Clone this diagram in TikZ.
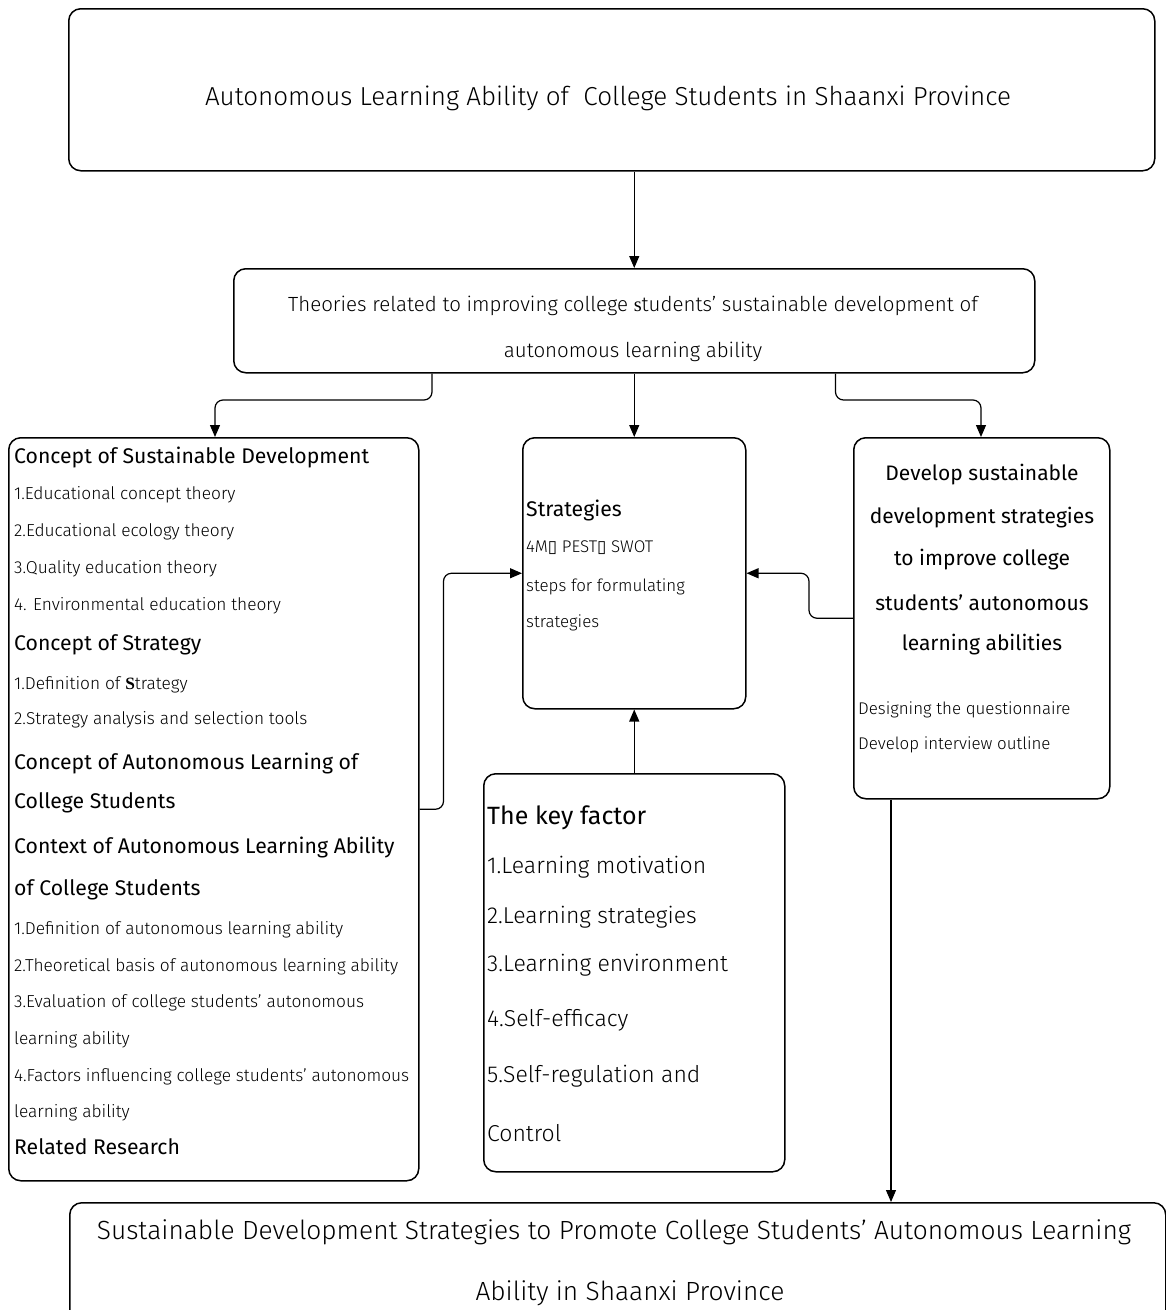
\documentclass[tikz,border=0pt]{standalone}
\usepackage{fontspec}
\setmainfont{Fira Sans}[UprightFont={* Light},BoldFont={*}]
\newfontfamily\headfont{Fira Sans}
\newfontfamily\symbfont{DejaVu Sans}
\newfontfamily\serifface{Liberation Serif}
\usetikzlibrary{arrows.meta}

\tikzset{
  box/.style={draw, line width=1.5pt, rounded corners=12pt, inner sep=0pt, anchor=north west},
  link/.style={line width=1.2pt, rounded corners=8pt, -{Triangle[length=12pt,width=10pt]}},
  item/.style={anchor=west, inner sep=0pt, font=\fontsize{17.3}{20}\selectfont},
  smallitem/.style={anchor=west, inner sep=0pt, font=\fontsize{16.9}{20}\selectfont},
  bigitem/.style={anchor=west, inner sep=0pt, font=\fontsize{23}{27}\selectfont},
  head/.style={anchor=west, inner sep=0pt, font=\headfont\fontsize{21.2}{25}\selectfont},
  midhead/.style={anchor=center, inner sep=0pt, font=\headfont\fontsize{21}{25}\selectfont},
  ctext/.style={anchor=center, inner sep=0pt}
}

\begin{document}
\begin{tikzpicture}[x=1pt, y=-1pt]
\useasboundingbox (0,0) rectangle (1166,1310);

% frames
\node[box, minimum width=1086pt, minimum height=162pt] (top)   at (68,8) {};
\node[box, minimum width=801pt,  minimum height=104pt] (theo)  at (233,268) {};
\node[box, minimum width=410pt,  minimum height=743pt] (lbox)  at (8,437) {};
\node[box, minimum width=223pt,  minimum height=271pt] (strat) at (522,437) {};
\node[box, minimum width=256pt,  minimum height=361pt] (rbox)  at (853,437) {};
\node[box, minimum width=301pt,  minimum height=398pt] (key)   at (483,773) {};
\node[box, minimum width=1096pt, minimum height=140pt] (bot)   at (69,1202) {};

% top title
\node[ctext, font=\fontsize{26}{30}\selectfont] (toptxt) at (608,98)
  {Autonomous Learning Ability of\ \ College Students in Shaanxi Province};

% theories
\node[ctext, font=\fontsize{20.5}{24}\selectfont] (theo1) at (633,306)
  {Theories related to improving college {\serifface s}tudents’ sustainable development of};
\node[ctext, font=\fontsize{20.5}{24}\selectfont] (theo2) at (633,352)
  {autonomous learning ability};

% left column
\node[head] (l1)  at (14,457)  {Concept of Sustainable Development};
\node[item] (l2)  at (14,495)  {1.Educational concept theory};
\node[item] (l3)  at (14,532)  {2.Educational ecology theory};
\node[item] (l4)  at (14,569)  {3.Quality education theory};
\node[item] (l5)  at (14,606)  {4. Environmental education theory};
\node[head] (l6)  at (14,645)  {Concept of Strategy};
\node[item] (l7)  at (14,685)  {1.Definition of {\serifface\bfseries S}trategy};
\node[item] (l8)  at (14,720)  {2.Strategy analysis and selection tools};
\node[head] (l9)  at (14,763)  {Concept of Autonomous Learning of};
\node[head] (l10) at (14,803)  {College Students};
\node[head] (l11) at (14,847)  {Context of Autonomous Learning Ability};
\node[head] (l12) at (14,890)  {of College Students};
\node[item] (l13) at (14,930)  {1.Definition of autonomous learning ability};
\node[item] (l14) at (14,967)  {2.Theoretical basis of autonomous learning ability};
\node[item] (l15) at (14,1003) {3.Evaluation of college students' autonomous};
\node[item] (l16) at (14,1040) {learning ability};
\node[item] (l17) at (14,1077) {4.Factors influencing college students' autonomous};
\node[item] (l18) at (14,1113) {learning ability};
\node[head] (l19) at (14,1147) {Related Research};

% strategies
\node[head] (s1) at (526,510) {Strategies};
\node[smallitem] (s2) at (526,548) {4M{\symbfont ▯} PEST{\symbfont ▯} SWOT};
\node[smallitem] (s3) at (526,587) {steps for formulating};
\node[smallitem] (s4) at (526,623) {strategies};

% right column
\node[midhead] (r1) at (982,475) {Develop sustainable};
\node[midhead] (r2) at (982,518) {development strategies};
\node[midhead] (r3) at (982,560) {to improve college};
\node[midhead] (r4) at (982,603) {students’ autonomous};
\node[midhead] (r5) at (982,645) {learning abilities};
\node[smallitem] (r6) at (858,710) {Designing the questionnaire};
\node[smallitem] (r7) at (858,745) {Develop interview outline};

% key factors
\node[head, font=\headfont\fontsize{25}{29}\selectfont] (k1) at (487,818) {The key factor};
\node[bigitem] (k2) at (487,867)  {1.Learning motivation};
\node[bigitem] (k3) at (487,917)  {2.Learning strategies};
\node[bigitem] (k4) at (487,965)  {3.Learning environment};
\node[bigitem] (k5) at (487,1020) {4.Self-efficacy};
\node[bigitem] (k6) at (487,1076) {5.Self-regulation and};
\node[bigitem] (k7) at (487,1133) {Control};

% bottom title
\node[ctext, font=\fontsize{26.3}{30}\selectfont] (bot1) at (614,1232)
  {Sustainable Development Strategies to Promote College Students’ Autonomous Learning};
\node[ctext, font=\fontsize{26.3}{30}\selectfont] (bot2) at (630,1293)
  {Ability in Shaanxi Province};

% connectors
\coordinate (jL) at (215,400);
\coordinate (jR) at (981,400);
\coordinate (rb) at ([xshift=38pt]rbox.south west);
\draw[link] (theo.north |- top.south) -- (theo.north);
\draw[link] ([xshift=199pt]theo.south west) |- (jL) -- (jL |- lbox.north);
\draw[link] (theo.south) -- (strat.north);
\draw[link] ([xshift=-200pt]theo.south east) |- (jR) -- (jR |- rbox.north);
\draw[link] (lbox.east) -- ++(24,0) |- (strat.west);
\draw[link] (rbox.west) -- ++(-44,0) |- (strat.east);
\draw[link] (key.north) -- (strat.south);
\draw[link] (rb) -- (rb |- bot.north);
\end{tikzpicture}
\end{document}
